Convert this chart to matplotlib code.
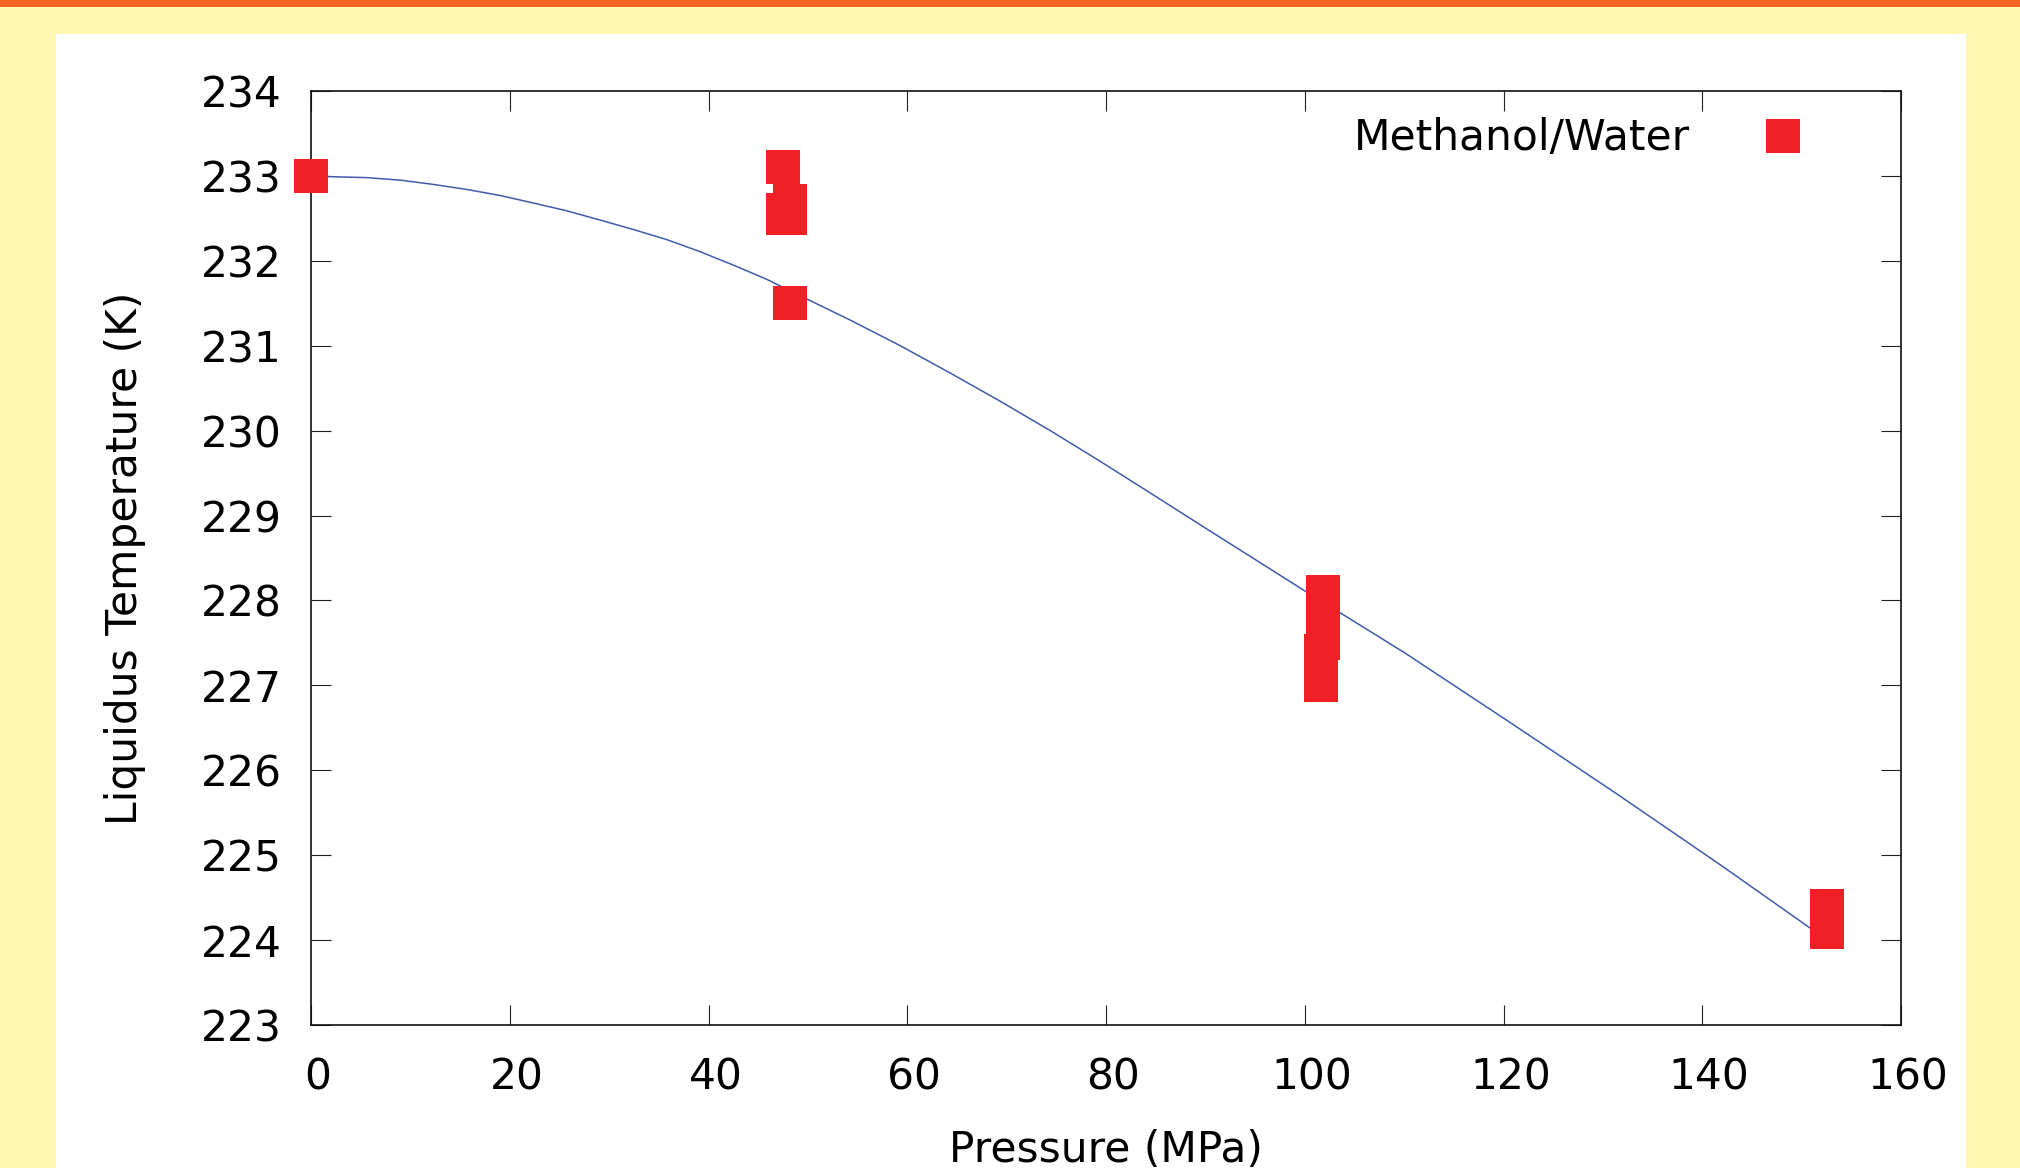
import matplotlib
matplotlib.use("Agg")
import matplotlib.pyplot as plt
from matplotlib.patches import Rectangle
from matplotlib.transforms import ScaledTranslation

# ---- data ----
pressure = [0.0, 47.5, 48.2, 47.5, 47.5, 48.2, 48.2,
            101.8, 101.8, 101.8, 101.6, 101.6, 152.6, 152.6]
temperature = [233.0, 233.1, 232.7, 232.6, 232.5, 232.5, 231.5,
               228.1, 227.7, 227.5, 227.4, 227.0, 224.4, 224.1]

fit_p = [0.0, 2.2, 5.6, 9.0, 12.3, 15.7, 19.0, 22.4, 25.7, 29.1, 32.4,
         35.8, 39.1, 42.5, 45.9, 49.2, 54.3, 59.3, 64.3, 69.3, 74.4, 79.4,
         84.4, 89.5, 94.5, 99.5, 110.1, 120.7, 131.3, 141.9, 152.7]
fit_t = [233.0, 232.99, 232.98, 232.95, 232.90, 232.84, 232.77, 232.68,
         232.59, 232.48, 232.37, 232.25, 232.11, 231.95, 231.78, 231.59,
         231.30, 231.00, 230.68, 230.35, 230.00, 229.64, 229.27, 228.89,
         228.52, 228.15, 227.38, 226.56, 225.73, 224.88, 223.99]

x_ticks = [0, 20, 40, 60, 80, 100, 120, 140, 160]
y_ticks = [223, 224, 225, 226, 227, 228, 229, 230, 231, 232, 233, 234]

series_label = "Methanol/Water"
x_label = "Pressure (MPa)"
y_label = "Liquidus Temperature (K)"

# ---- style ----
W, H, DPI = 2020, 1168, 100
FS = 30.5
YELLOW = "#FFF7B1"
ORANGE = "#F26522"
RED = "#EE1F25"
BLUE = "#3F5BAA"

plt.rcParams["font.family"] = ["DejaVu Sans"]

fig = plt.figure(figsize=(W / DPI, H / DPI), dpi=DPI, facecolor=YELLOW)

# background decorations
fig.patches.append(Rectangle((0, 1 - 7 / H), 1, 7 / H, transform=fig.transFigure,
                             facecolor=ORANGE, edgecolor="none", zorder=-2))
fig.patches.append(Rectangle((56 / W, 0), (1966 - 56) / W, (H - 34) / H,
                             transform=fig.transFigure, facecolor="white",
                             edgecolor="none", zorder=-2))

ax = fig.add_axes([311 / W, (H - 1025) / H, 1590 / W, 934 / H])
ax.set_facecolor("white")

ax.plot(fit_p, fit_t, color=BLUE, linewidth=1.1, zorder=2,
        solid_joinstyle="round")
ax.plot(pressure, temperature, linestyle="none", marker="s", markersize=23.8,
        markerfacecolor=RED, markeredgewidth=0, color=RED, label=series_label,
        zorder=3, clip_on=False)

ax.set_xlim(0, 160)
ax.set_ylim(223, 234)
ax.set_xticks(x_ticks)
ax.set_yticks(y_ticks)
ax.tick_params(axis="both", direction="in", length=14.4, width=0.8,
               color="#222222", labelsize=FS, top=True, right=True)
ax.tick_params(axis="x", pad=23)
ax.tick_params(axis="y", pad=21)
for sp in ax.spines.values():
    sp.set_linewidth(1.2)
    sp.set_color("#111111")

offset = ScaledTranslation(7 / DPI, 0, fig.dpi_scale_trans)
for lab in ax.get_xticklabels():
    lab.set_transform(lab.get_transform() + offset)

fig.text(1106 / W, (H - 1162) / H, x_label, fontsize=FS, ha="center", va="baseline")
fig.text(125 / W, (H - 558) / H, y_label, fontsize=FS, ha="center", va="center",
         rotation=90)

leg = ax.legend(loc="center right", bbox_to_anchor=(1803.7 / W, 1 - 138.5 / H),
                bbox_transform=fig.transFigure, frameon=False, fontsize=FS,
                markerfirst=False, handlelength=1.0, handletextpad=1.68,
                borderpad=0, borderaxespad=0)

fig.savefig("out.png", dpi=DPI, facecolor=YELLOW)
